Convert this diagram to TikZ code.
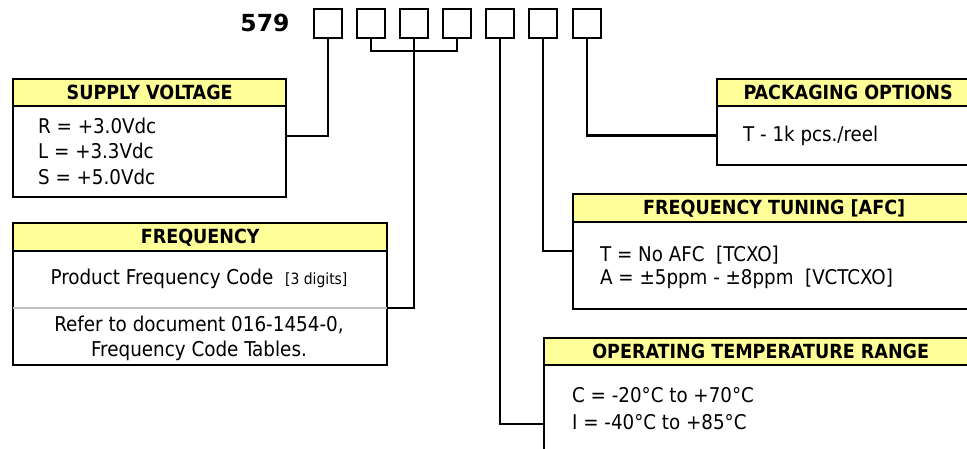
\documentclass[tikz,border=0pt]{standalone}
\usepackage{fontspec}
\setmainfont{DejaVu Sans Condensed}
\newfontfamily\numfont{DejaVu Sans}
\definecolor{hdryellow}{HTML}{FFFF99}
\definecolor{divgray}{HTML}{C0C0C0}
\tikzset{
  codebox/.style={draw, line width=2.2pt, minimum width=28pt, minimum height=29pt, inner sep=0pt},
  hdr/.style={draw, line width=2.4pt, fill=hdryellow, anchor=north west, inner sep=0pt,
    font=\fontsize{19.5}{21}\selectfont\bfseries},
  bodybox/.style={draw, line width=2.4pt, fill=white, anchor=north west, inner sep=0pt},
  bodytxt/.style={inner sep=0pt, align=left},
  conn/.style={line width=2.4pt},
}
\begin{document}
\begin{tikzpicture}[x=1pt,y=-1pt]
\useasboundingbox (0,0) rectangle (967,449);
\fill[white] (0,0) rectangle (967,449);

% part number
\node[font=\numfont\fontsize{23.5}{25}\selectfont\bfseries, inner sep=0pt] (pn) at (265,22.5) {579};
\foreach \i/\x in {1/328,2/371,3/414,4/457,5/500,6/543,7/587}
  \node[codebox] (b\i) at (\x,23.5) {};

% supply voltage
\node[bodybox, minimum width=273pt, minimum height=91pt] (svb) at (12,105) {};
\node[hdr, minimum width=273pt, minimum height=27pt] (svh) at (12,78) {SUPPLY VOLTAGE};
\node[bodytxt, anchor=west, font=\fontsize{20.3}{25.5}\selectfont] (svt) at (38,151)
  {R = +3.0Vdc\\L = +3.3Vdc\\S = +5.0Vdc};

% frequency
\node[bodybox, minimum width=374pt, minimum height=114pt] (fqb) at (12,250) {};
\node[hdr, minimum width=374pt, minimum height=28pt] (fqh) at (12,222) {FREQUENCY};
\draw[divgray, line width=2.2pt] ([xshift=1.2pt]fqb.west) -- ([xshift=-1.2pt]fqb.east);
\node[inner sep=0pt, font=\fontsize{20.4}{25}\selectfont] (fqt1) at (199,279)
  {Product Frequency Code\ \ {\fontsize{15.5}{17}\selectfont[3 digits]}};
\node[inner sep=0pt, align=center, font=\fontsize{20.4}{25}\selectfont] (fqt2) at (199,338)
  {Refer to document 016-1454-0,\\Frequency Code Tables.};

% packaging options
\node[bodybox, minimum width=262pt, minimum height=59pt] (pkb) at (716,105) {};
\node[hdr, minimum width=262pt, minimum height=27pt] (pkh) at (716,78) {PACKAGING OPTIONS};
\node[bodytxt, anchor=west, font=\fontsize{20.3}{25}\selectfont] (pkt) at (743,136) {T - 1k pcs./reel};

% frequency tuning
\node[bodybox, minimum width=402pt, minimum height=87pt] (ftb) at (572,221) {};
\node[hdr, minimum width=402pt, minimum height=28pt] (fth) at (572,193) {FREQUENCY TUNING [AFC]};
\node[bodytxt, anchor=west, font=\fontsize{20.3}{23}\selectfont] (ftt) at (600,267)
  {T = No AFC\ \ [TCXO]\\A = ±5ppm - ±8ppm\ \ [VCTCXO]};

% operating temperature range
\node[bodybox, minimum width=433pt, minimum height=89pt] (tpb) at (543,364) {};
\node[hdr, minimum width=433pt, minimum height=27pt] (tph) at (543,337) {OPERATING TEMPERATURE RANGE};
\node[bodytxt, anchor=west, font=\fontsize{20.3}{27}\selectfont] (tpt) at (572,409)
  {C = -20°C to +70°C\\I = -40°C to +85°C};

% connectors
\draw[conn] (b1.south) |- ([yshift=15.5pt]svb.east);
\draw[conn] (b2.south) -- ++(0,12) -| (b4.south);
\draw[conn] (b3.south) |- (fqb.east);
\draw[conn] (b5.south) |- ([yshift=-14.5pt]tpb.west);
\draw[conn] (b6.south) |- ([yshift=14.5pt]ftb.west);
\draw[conn] (b7.south) |- (pkb.west);
\end{tikzpicture}
\end{document}
